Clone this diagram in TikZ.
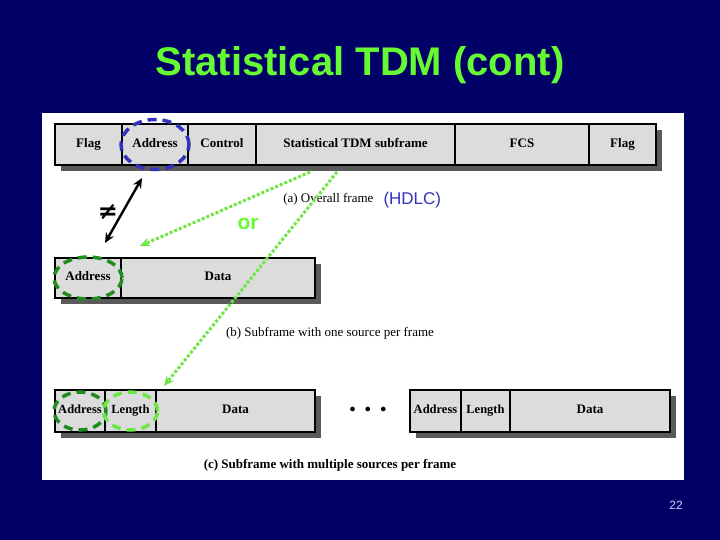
\documentclass[tikz,border=0pt]{standalone}
\usepackage{fontspec}
\setmainfont{Liberation Serif}
\setsansfont{Liberation Sans}
\newfontfamily\symbolfont{DejaVu Sans}
\usepackage{tikz}
\usetikzlibrary{arrows.meta,positioning,calc}

\definecolor{slidebg}{RGB}{0,0,102}
\definecolor{titlegreen}{RGB}{102,250,51}
\definecolor{boxgray}{RGB}{220,220,220}
\definecolor{shadowgray}{RGB}{90,90,90}
\definecolor{ovalblue}{RGB}{50,50,190}
\definecolor{ovaldark}{RGB}{30,140,30}
\definecolor{ovallight}{RGB}{110,230,70}
\definecolor{dotgreen}{RGB}{110,230,70}

\tikzset{
  field/.style={draw, line width=1.4pt, fill=boxgray, inner sep=0pt, text height=1.6ex, text depth=0.4ex, font=\bfseries\fontsize{13}{13}\selectfont},
  shadowbox/.style={fill=shadowgray},
  oval/.style={line width=3.5pt, dash pattern=on 9pt off 6pt},
  dotline/.style={dotgreen, line width=3pt, dotted, -{Stealth[length=10pt,width=9pt]}},
  caption/.style={font=\fontsize{13}{13}\selectfont}
}

\begin{document}
\begin{tikzpicture}[x=1pt,y=-1pt]
% slide background and white panel
\fill[slidebg] (0,0) rectangle (720,540);
\useasboundingbox (0,0) rectangle (720,540);
\fill[white] (42,113) rectangle (684,480);
\node[titlegreen, font=\sffamily\bfseries\fontsize{40}{40}\selectfont] (title) at (360,65) {Statistical TDM (cont)};

% (a) overall frame
\fill[shadowbox] (61,130) rectangle (662,171);
\node[field, minimum width=67pt, minimum height=41pt] (flagA) at (88.5,144.5) {Flag};
\node[field, minimum width=66pt, minimum height=41pt] (addrA) at (155,144.5) {Address};
\node[field, minimum width=68pt, minimum height=41pt] (ctrlA) at (222,144.5) {Control};
\node[field, minimum width=199pt, minimum height=41pt] (subA) at (355.5,144.5) {Statistical TDM subframe};
\node[field, minimum width=134pt, minimum height=41pt] (fcsA) at (522,144.5) {FCS};
\node[field, minimum width=67pt, minimum height=41pt] (flagB) at (622.5,144.5) {Flag};
\node[caption, anchor=base east] (capA) at (377,203) {(a) Overall frame};
\node[ovalblue, font=\sffamily\fontsize{17}{17}\selectfont, anchor=base west] (hdlc) at (380,205) {(HDLC)};

% (b) one source per frame
\fill[shadowbox] (61,264) rectangle (321,304);
\node[field, minimum width=66pt, minimum height=40pt] (addrB) at (88,278) {Address};
\node[field, minimum width=194pt, minimum height=40pt] (dataB) at (218,278) {Data};
\node[caption] (capB) at (330,333) {(b) Subframe with one source per frame};

% (c) multiple sources per frame
\fill[shadowbox] (61,396) rectangle (321,438);
\node[field, font=\bfseries\fontsize{12.5}{12.5}\selectfont, minimum width=50pt, minimum height=42pt] (addrC) at (80,411) {Address};
\node[field, font=\bfseries\fontsize{12.5}{12.5}\selectfont, minimum width=51pt, minimum height=42pt] (lenC) at (130.5,411) {Length};
\node[field, minimum width=159pt, minimum height=42pt] (dataC) at (235.5,411) {Data};
\node[font=\fontsize{12}{12}\selectfont] (dots) at (368,410) {$\bullet\;\;\bullet\;\;\bullet$};
\fill[shadowbox] (416,396) rectangle (676,438);
\node[field, font=\bfseries\fontsize{12.5}{12.5}\selectfont, minimum width=51pt, minimum height=42pt] (addrD) at (435.5,411) {Address};
\node[field, font=\bfseries\fontsize{12.5}{12.5}\selectfont, minimum width=49pt, minimum height=42pt] (lenD) at (485.5,411) {Length};
\node[field, minimum width=160pt, minimum height=42pt] (dataD) at (590,411) {Data};
\node[caption, font=\bfseries\fontsize{13}{13}\selectfont] (capC) at (330,465) {(c) Subframe with multiple sources per frame};

% highlight ovals
\draw[oval, ovalblue] (addrA) ellipse [x radius=34pt, y radius=25pt];
\draw[oval, ovaldark] (addrB) ellipse [x radius=34pt, y radius=21pt];
\draw[oval, ovaldark] (addrC) ellipse [x radius=26pt, y radius=19pt];
\draw[oval, ovallight] (lenC) ellipse [x radius=27pt, y radius=19pt];

% not-equal arrow
\coordinate (neTop) at (142,178);
\coordinate (neBot) at (105,243);
\draw[line width=2.4pt, {Stealth[length=10pt,width=9pt]}-{Stealth[length=10pt,width=9pt]}] (neBot) -- (neTop);
\node[font=\symbolfont\bfseries\fontsize{24}{24}\selectfont] (neq) at (108,212) {≠};

% dotted pointers
\coordinate (ptrOne) at (310,172);
\coordinate (ptrTwo) at (337,172);
\coordinate (toB) at (140,246);
\coordinate (toC) at (164,386);
\draw[dotline] (ptrOne) -- (toB);
\draw[dotline] (ptrTwo) -- (toC);
\node[titlegreen, font=\sffamily\bfseries\fontsize{21}{21}\selectfont] (orText) at (248,224) {or};

\node[white!80!blue, font=\sffamily\fontsize{12}{12}\selectfont] (pageNo) at (676,505) {22};
\end{tikzpicture}
\end{document}
